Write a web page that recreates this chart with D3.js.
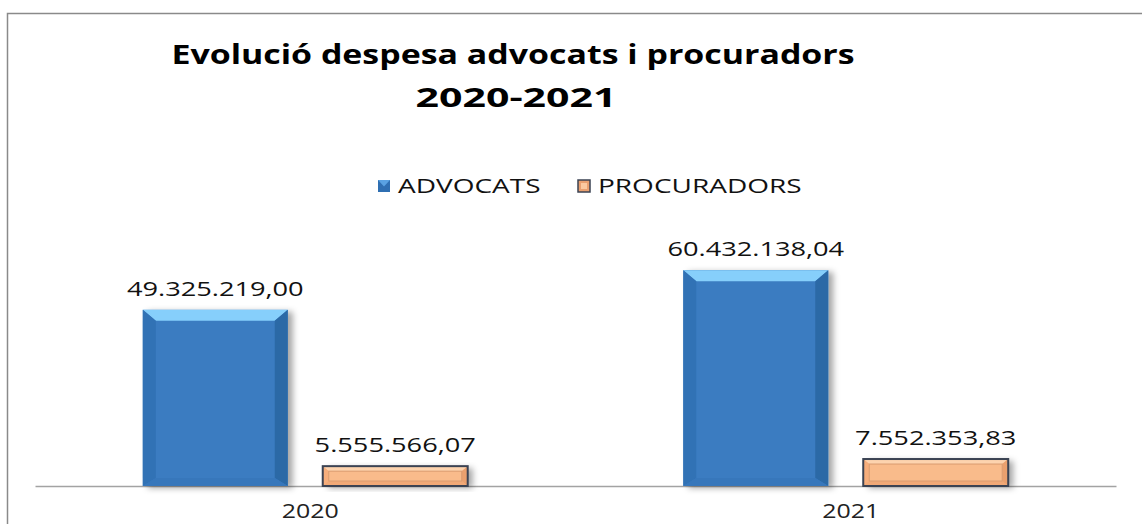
<!DOCTYPE html>
<html>
<head>
<meta charset="utf-8">
<script src="https://cdn.jsdelivr.net/npm/d3@7"></script>
<style>
  html, body { margin: 0; padding: 0; background: #fff; }
  svg { display: block; }
</style>
</head>
<body>
<svg id="chart" width="1142" height="524"></svg>
<script>
// ---- data ----
const years = ["2020", "2021"];
const seriesNames = ["ADVOCATS", "PROCURADORS"];
const advocats = [49325219.00, 60432138.04];
const procuradors = [5555566.07, 7552353.83];
const valueLabels = [["49.325.219,00", "5.555.566,07"], ["60.432.138,04", "7.552.353,83"]];
const titleLines = ["Evolució despesa advocats i procuradors", "2020-2021"];

const rows = years.map((y, i) => ({ year: y, values: [advocats[i], procuradors[i]], labels: valueLabels[i] }));

const FONT = "'Open Sans', 'Noto Sans', sans-serif";

const svg = d3.select("#chart");

// shadow filter
const defs = svg.append("defs");
const f = defs.append("filter").attr("id", "sh").attr("x", "-20%").attr("y", "-20%").attr("width", "150%").attr("height", "150%");
f.append("feDropShadow").attr("dx", 5).attr("dy", 2).attr("stdDeviation", 3).attr("flood-color", "#000").attr("flood-opacity", 0.35);

// frame
svg.append("path").attr("d", "M7.5,524 V13.5 H1142").attr("fill", "none").attr("stroke", "#8a8a8a").attr("stroke-width", 1.5);

function stretchedText(x, y, str, size, weight, anchor, color, sx) {
  const g = svg.append("g").attr("transform", `translate(${x},${y}) scale(${sx},1)`);
  g.append("text").attr("x", 0).attr("y", 0).attr("text-anchor", anchor || "middle")
    .attr("font-family", FONT).attr("font-size", size).attr("font-weight", weight || "normal")
    .attr("fill", color || "#000").text(str);
  return g;
}

// title
stretchedText(513, 64, titleLines[0], 26.5, "bold", "middle", "#000", 1.28);
stretchedText(516, 107, titleLines[1], 26.5, "bold", "middle", "#000", 1.55);

// scales
const x0 = d3.scaleBand().domain(years).range([35, 1116]).paddingInner(0).paddingOuter(0);
const x1 = d3.scaleBand().domain(seriesNames).range([0, x0.bandwidth()]).paddingInner(35 / 180).paddingOuter(0.599);
const y = d3.scaleLinear().domain([0, 70000000]).range([486, 236]);

// bevel drawing helpers
function blueBar(g, bx, by, w, h) {
  const s = 13, t = Math.min(11, h / 2), bb = Math.min(8, h / 3);
  g.append("rect").attr("x", bx).attr("y", by).attr("width", w).attr("height", h).attr("fill", "#3a7cc1").attr("filter", "url(#sh)");
  g.append("polygon").attr("points", `${bx},${by} ${bx + w},${by} ${bx + w - s},${by + t} ${bx + s},${by + t}`).attr("fill", "#86cffb");
  g.append("polygon").attr("points", `${bx},${by} ${bx + s},${by + t} ${bx + s},${by + h - bb} ${bx},${by + h}`).attr("fill", "#3172b5");
  g.append("polygon").attr("points", `${bx + w},${by} ${bx + w - s},${by + t} ${bx + w - s},${by + h - bb} ${bx + w},${by + h}`).attr("fill", "#2b69a6");
  g.append("polygon").attr("points", `${bx},${by + h} ${bx + s},${by + h - bb} ${bx + w - s},${by + h - bb} ${bx + w},${by + h}`).attr("fill", "#3777bb");
}
function orangeBar(g, bx, by, w, h) {
  const s = 6, t = Math.min(5, h / 3);
  g.append("rect").attr("x", bx).attr("y", by).attr("width", w).attr("height", h).attr("fill", "#f8b586").attr("filter", "url(#sh)");
  g.append("polygon").attr("points", `${bx},${by} ${bx + w},${by} ${bx + w - s},${by + t} ${bx + s},${by + t}`).attr("fill", "#fdd3ae");
  g.append("polygon").attr("points", `${bx},${by} ${bx + s},${by + t} ${bx + s},${by + h - t} ${bx},${by + h}`).attr("fill", "#f6ae7c");
  g.append("polygon").attr("points", `${bx + w},${by} ${bx + w - s},${by + t} ${bx + w - s},${by + h - t} ${bx + w},${by + h}`).attr("fill", "#eaa06e");
  g.append("polygon").attr("points", `${bx},${by + h} ${bx + s},${by + h - t} ${bx + w - s},${by + h - t} ${bx + w},${by + h}`).attr("fill", "#f1a977");
  g.append("rect").attr("x", bx + s).attr("y", by + t).attr("width", w - 2 * s).attr("height", Math.max(0, h - 2 * t))
    .attr("fill", "#f9bb8b").attr("stroke", "#d99c70").attr("stroke-width", 1);
  g.append("rect").attr("x", bx).attr("y", by).attr("width", w).attr("height", h).attr("fill", "none").attr("stroke", "#3b4353").attr("stroke-width", 2);
}

// axis
const axisG = svg.append("g").attr("transform", "translate(0,486)").call(d3.axisBottom(x0).tickSize(0).tickPadding(0));
axisG.select(".domain").attr("stroke", "#a3a3a3").attr("stroke-width", 1.5);
axisG.selectAll(".tick text").attr("font-family", FONT).attr("font-size", 19.5).attr("fill", "#222")
  .attr("y", 32).attr("dy", 0).attr("transform", "translate(5,0) scale(1.28,1)");

// bars
const barsG = svg.append("g");
rows.forEach(r => {
  r.values.forEach((v, j) => {
    const bx = x0(r.year) + x1(seriesNames[j]);
    const w = x1.bandwidth();
    const by = y(v);
    const h = y(0) - y(v);
    const g = barsG.append("g");
    if (j === 0) blueBar(g, bx, by, w, h); else orangeBar(g, bx, by, w, h);
    stretchedText(bx + w / 2, by - 14, r.labels[j], 20, "normal", "middle", "#111", 1.36);
  });
});

// legend
const legendItems = [{ name: seriesNames[0], x: 378 }, { name: seriesNames[1], x: 578 }];
legendItems.forEach((it, i) => {
  const lg = svg.append("g");
  const lx = it.x, ly = 180, sz = 12;
  if (i === 0) {
    lg.append("rect").attr("x", lx).attr("y", ly).attr("width", sz).attr("height", sz).attr("fill", "#2f6fb2");
    lg.append("polygon").attr("points", `${lx},${ly} ${lx + sz},${ly} ${lx + sz / 2},${ly + sz * 0.55}`).attr("fill", "#5aa2e2");
  } else {
    lg.append("rect").attr("x", lx).attr("y", ly).attr("width", sz).attr("height", sz).attr("fill", "#e9a070").attr("stroke", "#3b4353").attr("stroke-width", 1.5);
    lg.append("rect").attr("x", lx + 3).attr("y", ly + 3).attr("width", sz - 6).attr("height", sz - 6).attr("fill", "#fbc9a0");
  }
  stretchedText(lx + 20, 193, it.name, 20, "normal", "start", "#111", 1.4);
});
</script>
</body>
</html>
